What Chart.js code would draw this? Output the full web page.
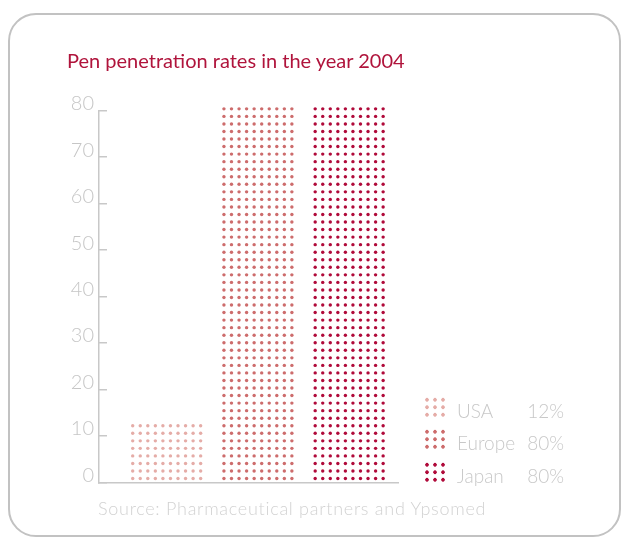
<!DOCTYPE html>
<html>
<head>
<meta charset="utf-8">
<script src="https://cdn.jsdelivr.net/npm/chart.js@4.4.1/dist/chart.umd.min.js"></script>
<style>
  html, body { margin: 0; padding: 0; background: #fff; }
  body { width: 621px; height: 537px; position: relative; overflow: hidden; font-family: "Lato", "DejaVu Sans", sans-serif; }
  #frame { position: absolute; left: 8px; top: 13px; width: 609px; height: 520px; border: 2px solid #c2c2c2; border-radius: 28px; }
  #cv { position: absolute; left: 0; top: 0; }
  #title { position: absolute; left: 67px; top: 47px; font-size: 20px; line-height: 26px; color: #b0143c; white-space: nowrap; }
  #source { position: absolute; left: 98px; top: 497px; font-size: 18px; line-height: 22px; letter-spacing: 0.72px; color: #d2d2d2; font-weight: 300; white-space: nowrap; }
  .lg-row { position: absolute; left: 0; height: 24px; width: 621px; }
  .lg-icon { position: absolute; left: 422.5px; width: 24px; height: 22.5px; }
  .lg-name { position: absolute; left: 457px; font-size: 19px; line-height: 24px; color: #c8c8c8; font-weight: 300; white-space: nowrap; }
  .lg-val { position: absolute; right: 57px; font-size: 19px; line-height: 24px; color: #c8c8c8; font-weight: 300; white-space: nowrap; }
</style>
</head>
<body>
<div id="frame"></div>
<canvas id="cv" width="621" height="537"></canvas>
<div id="title">Pen penetration rates in the year 2004</div>
<div id="legend"></div>
<div id="source">Source: Pharmaceutical partners and Ypsomed</div>
<script>
const categories = ['USA', 'Europe', 'Japan'];
const values = [12, 80, 80];
const yTickLabels = [0, 10, 20, 30, 40, 50, 60, 70, 80];
const dotColors = ['#e5aca7', '#cd6c6c', '#b00a3a'];

// legend (HTML, built from the data arrays)
const legend = document.getElementById('legend');
const legendTops = [396, 428.3, 460.6];
categories.forEach((c, i) => {
  const row = document.createElement('div');
  row.className = 'lg-row';
  row.style.top = legendTops[i] + 'px';
  const icon = document.createElement('div');
  icon.className = 'lg-icon';
  icon.style.top = '0px';
  icon.style.backgroundImage = 'radial-gradient(circle at center, ' + dotColors[i] + ' 0, ' + dotColors[i] + ' 1.5px, rgba(255,255,255,0) 2.1px)';
  icon.style.backgroundSize = '8px 7.5px';
  const name = document.createElement('div');
  name.className = 'lg-name';
  name.style.top = '3px';
  name.textContent = c;
  const val = document.createElement('div');
  val.className = 'lg-val';
  val.style.top = '3px';
  val.textContent = values[i] + '%';
  row.appendChild(icon); row.appendChild(name); row.appendChild(val);
  legend.appendChild(row);
});

const dotPlugin = {
  id: 'dots',
  afterDatasetsDraw(chart) {
    const ctx = chart.ctx;
    const meta = chart.getDatasetMeta(0);
    const colSpacing = 7.55, rowSpacing = 7.545, r = 1.7, cols = 10;
    meta.data.forEach((el, i) => {
      const p = el.getProps(['x', 'y', 'base', 'width'], true);
      const left = p.x - p.width / 2 + 2;
      ctx.save();
      ctx.fillStyle = dotColors[i];
      for (let cy = p.base - 3; cy >= p.y - 2; cy -= rowSpacing) {
        for (let k = 0; k < cols; k++) {
          ctx.beginPath();
          ctx.arc(left + k * colSpacing, cy, r, 0, Math.PI * 2);
          ctx.fill();
        }
      }
      ctx.restore();
    });
  }
};

new Chart(document.getElementById('cv'), {
  type: 'bar',
  data: {
    datasets: [{
      data: categories.map((c, i) => ({ x: i, y: values[i] })),
      backgroundColor: 'rgba(0,0,0,0)',
      borderWidth: 0,
      barThickness: 72
    }]
  },
  options: {
    responsive: false,
    animation: false,
    devicePixelRatio: 1,
    layout: { padding: { left: 0, top: 110.7, right: 223, bottom: 0 } },
    plugins: { legend: { display: false }, tooltip: { enabled: false }, title: { display: false } },
    scales: {
      x: {
        type: 'linear',
        offset: false,
        min: -0.742,
        max: 2.535,
        ticks: { display: false },
        grid: { display: false, offset: false },
        border: { display: true, color: '#c8c8c8', width: 1.5 },
        afterFit: s => { s.height = 54.7; }
      },
      y: {
        min: 0,
        max: 80,
        afterBuildTicks: s => { s.ticks = yTickLabels.map(v => ({ value: v })); },
        ticks: {
          color: '#c6c6c6',
          font: { family: 'Lato', size: 20, weight: 300 },
          padding: 13,
          labelOffset: -7
        },
        grid: { display: true, drawOnChartArea: false, drawTicks: true, tickLength: -8, color: '#c8c8c8', lineWidth: 1.5 },
        border: { display: true, color: '#c8c8c8', width: 1.5 },
        afterFit: s => { s.width = 99; }
      }
    }
  },
  plugins: [dotPlugin]
});
</script>
</body>
</html>
